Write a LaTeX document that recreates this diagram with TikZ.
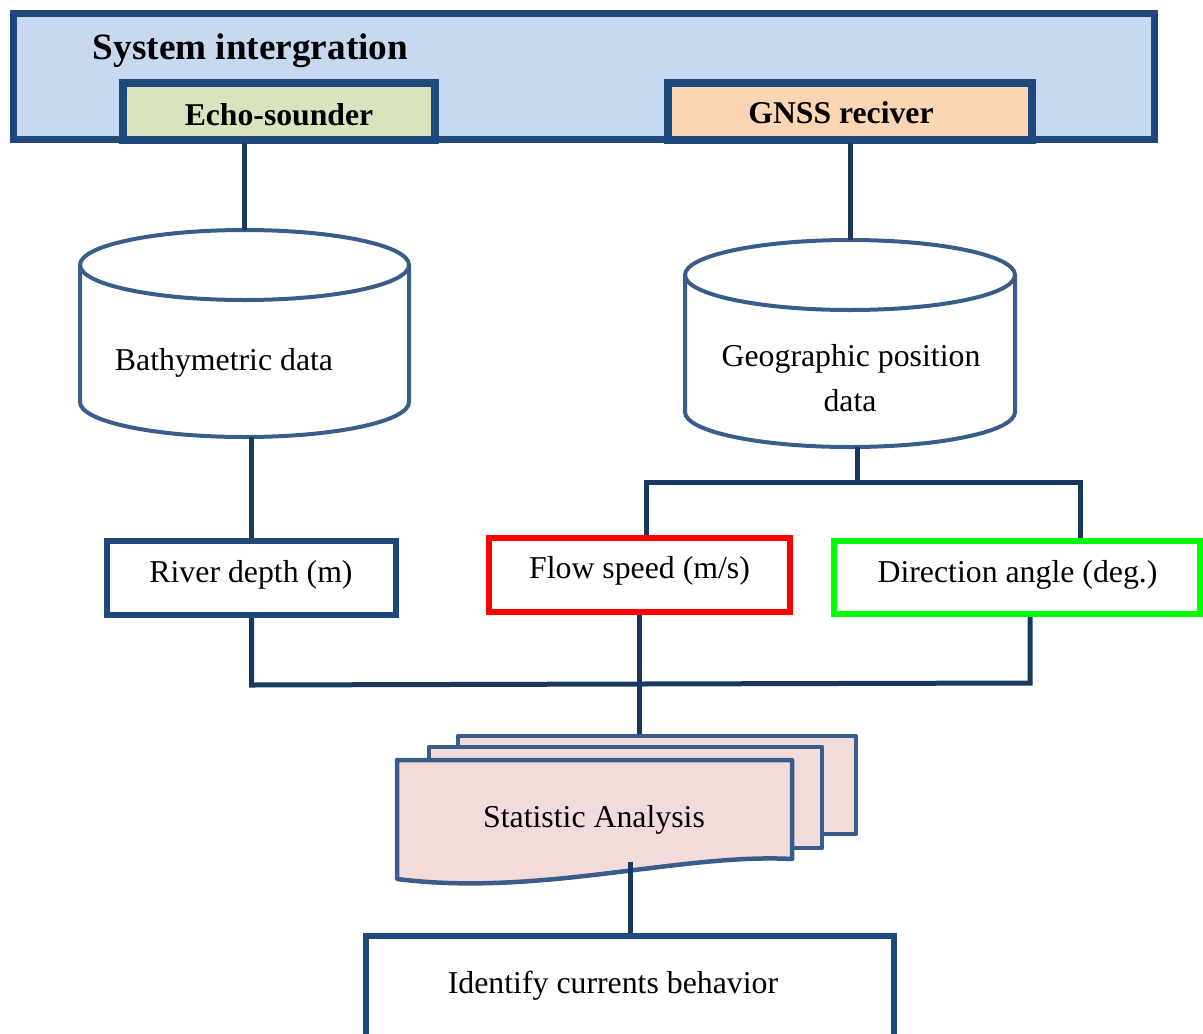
\documentclass[tikz,border=0pt]{standalone}
\usepackage{fontspec}
\setmainfont{Liberation Serif}
\definecolor{navy}{RGB}{31,73,125}
\definecolor{connc}{RGB}{25,56,96}
\definecolor{steel}{RGB}{56,93,138}
\definecolor{sysfill}{RGB}{198,217,241}
\definecolor{echofill}{RGB}{215,228,189}
\definecolor{gnssfill}{RGB}{252,213,181}
\definecolor{docfill}{RGB}{242,220,219}
\definecolor{flowred}{RGB}{255,0,0}
\definecolor{dirgreen}{RGB}{0,255,0}
\begin{document}
\begin{tikzpicture}[x=1pt,y=-1pt,
  box/.style={draw=navy, line width=6pt, inner sep=0pt, fill=white},
  txt/.style={anchor=base, inner sep=0pt, font=\fontsize{31.8}{38}\selectfont},
  btxt/.style={anchor=base, inner sep=0pt, font=\fontsize{31.7}{38}\selectfont\bfseries},
  cylst/.style={draw=steel, line width=4pt},
  docpage/.style={draw=steel, fill=docfill, line width=4.5pt, line join=round},
  conn/.style={draw=connc, line width=5pt}]
\useasboundingbox (0,0) rectangle (1203,1034);
% top system box
\node[box, fill=sysfill, line width=7pt, minimum width=1141pt, minimum height=126pt] (sys) at (584,76.5) {};
\node[anchor=base, inner sep=0pt, font=\fontsize{37.2}{44}\selectfont\bfseries] (sysT) at (250.5,59) {System intergration};
\node[box, fill=echofill, line width=8pt, minimum width=312pt, minimum height=56.5pt] (echo) at (279,111.25) {};
\node[btxt] (echoT) at (279,125.5) {Echo-sounder};
\node[box, fill=gnssfill, line width=8pt, minimum width=364pt, minimum height=56.5pt] (gnss) at (850,111.25) {};
\node[btxt] (gnssT) at (841,123.5) {GNSS reciver};
% cylinders
\node[inner sep=0pt, outer sep=0pt, minimum width=329pt, minimum height=207pt] (cyl1) at (244.5,333.5) {};
\draw[cylst] (80,265) -- (80,402) arc[start angle=180, end angle=360, x radius=164.5pt, y radius=35pt] -- (409,265);
\draw[cylst] (244.5,265) ellipse [x radius=164.5pt, y radius=35pt];
\node[txt] (cyl1T) at (224,370) {Bathymetric data};
\node[inner sep=0pt, outer sep=0pt, minimum width=330pt, minimum height=207pt] (cyl2) at (850,343.5) {};
\draw[cylst] (685,275) -- (685,412) arc[start angle=180, end angle=360, x radius=165pt, y radius=35pt] -- (1015,275);
\draw[cylst] (850,275) ellipse [x radius=165pt, y radius=35pt];
\node[txt] (cyl2T) at (851,366) {Geographic position};
\node[txt] (cyl2T2) at (850,411) {data};
% middle boxes
\node[box, minimum width=289pt, minimum height=74pt] (river) at (251.5,578) {};
\node[txt] (riverT) at (251,582) {River depth (m)};
\node[box, draw=flowred, minimum width=301pt, minimum height=74pt] (flow) at (639.5,575) {};
\node[txt] (flowT) at (639.5,578) {Flow speed (m/s)};
\node[box, draw=dirgreen, minimum width=366pt, minimum height=73pt] (dir) at (1017,577.5) {};
\node[txt] (dirT) at (1017.5,582) {Direction angle (deg.)};
% document stack
\node[docpage, inner sep=0pt, minimum width=398pt, minimum height=98pt] (doc3) at (657,785) {};
\node[docpage, inner sep=0pt, minimum width=393pt, minimum height=101pt] (doc2) at (625.5,797.5) {};
\draw[docpage] (397,760) -- (792,760) -- (792,859) .. controls (680,853) and (540,897) .. (397,879) -- cycle;
\node[txt] (docT) at (594,827) {Statistic Analysis};
\coordinate (docout) at (630,862);
% bottom box
\node[box, minimum width=528pt, minimum height=114pt] (ident) at (630,993) {};
\node[txt] (identT) at (613,993) {Identify currents behavior};
% connectors
\coordinate (brL) at (646,482);
\coordinate (brR) at (1080,482);
\coordinate (mL) at (250,685);
\coordinate (mR) at (1030,683);
\draw[conn] (sys.south -| cyl1.north) -- (cyl1.north);
\draw[conn] (sys.south -| cyl2.north) -- (cyl2.north);
\draw[conn] (river.north |- cyl1.south) -- (river.north);
\draw[conn] (857,0 |- cyl2.south) -- (857,482);
\draw[conn] (brL |- flow.north) -- (brL) -- (brR) -- (brR |- dir.north);
\draw[conn] (river.south) -- (river.south |- mL) -- (mR) -- (mR |- dir.south);
\draw[conn] (flow.south) -- (flow.south |- doc3.north);
\draw[conn] (docout) -- (ident.north);
\end{tikzpicture}
\end{document}
